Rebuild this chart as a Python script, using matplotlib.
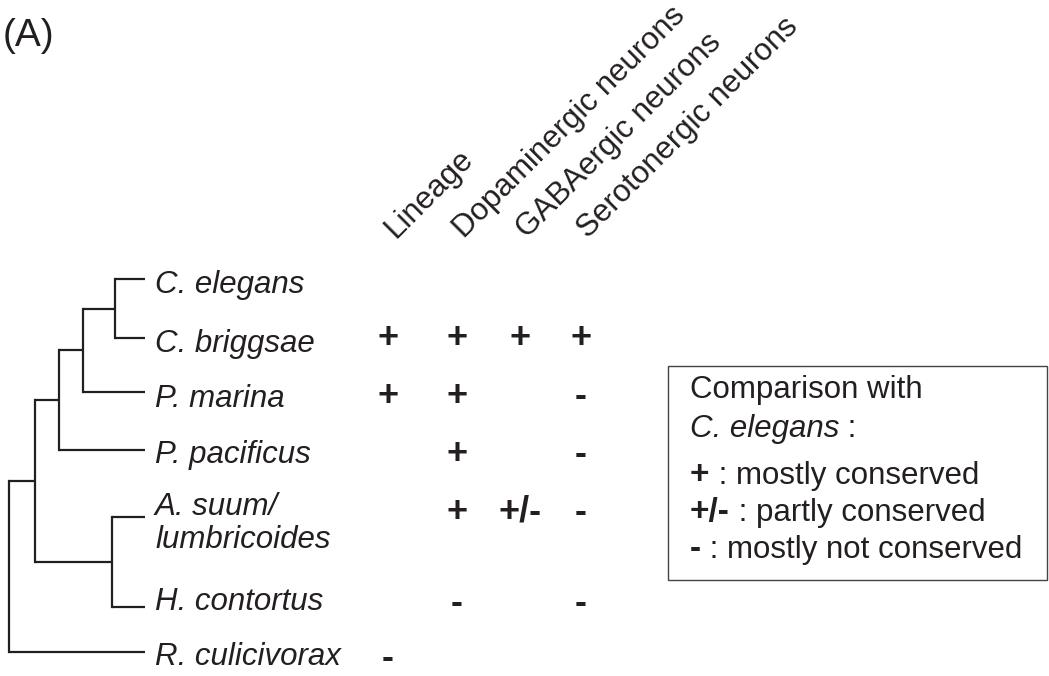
import matplotlib
matplotlib.use("Agg")
import matplotlib.pyplot as plt
from matplotlib.patches import Rectangle

# Data
species = ["C. elegans", "C. briggsae", "P. marina", "P. pacificus",
           "A. suum/\nlumbricoides", "H. contortus", "R. culicivorax"]
features = ["Lineage", "Dopaminergic neurons", "GABAergic neurons",
            "Serotonergic neurons"]
lineage = ["", "+", "+", "", "", "", "-"]
dopaminergic = ["", "+", "+", "+", "+", "-", ""]
gabaergic = ["", "+", "", "", "+/-", "", ""]
serotonergic = ["", "+", "-", "-", "-", "-", ""]
columns = [lineage, dopaminergic, gabaergic, serotonergic]

# tree as nested tuples of species indices
tree = (((((0, 1), 2), 3), (4, 5)), 6)

legend_items = [("+", "mostly conserved"),
                ("+/-", "partly conserved"),
                ("-", "mostly not conserved")]

# Layout (pixels, y grows downwards)
INK = "#231f20"
FS = 22.5
tip_y = [279, 338, 392, 450, 517, 607, 652]
label_base = [293, 352, 407, 463, 515, 610, 665]
sym_mid = [0, 337, 395, 453, 511, 602, 657]
tip_x = 145
node_x = [9, 35, 59, 83, 115, 112]   # in drawing order
col_x = [388, 457, 520, 581]

plt.rcParams["font.family"] = ["Liberation Sans", "DejaVu Sans"]

fig = plt.figure(figsize=(10.49, 6.76), dpi=100)
ax = fig.add_axes([0, 0, 1, 1])
ax.set_xlim(0, 1049)
ax.set_ylim(676, 0)
ax.axis("off")

lw = 1.6
order = iter(node_x)


def draw(node, x):
    ys = []
    for child in node:
        if isinstance(child, int):
            cy, cx = tip_y[child], tip_x
        else:
            cx = next(order)
            cy = draw(child, cx)
        ax.plot([x, cx], [cy, cy], color=INK, lw=lw, solid_capstyle="butt")
        ys.append(cy)
    ax.plot([x, x], [min(ys), max(ys)], color=INK, lw=lw,
            solid_capstyle="projecting")
    return (min(ys) + max(ys)) / 2


draw(tree, next(order))

# Species labels
for i, name in enumerate(species):
    for j, line in enumerate(name.split("\n")):
        ax.text(155, label_base[i] + 33 * j, line, fontsize=FS,
                style="italic", color=INK, ha="left", va="baseline")

# Table symbols
for cx, col in zip(col_x, columns):
    for i, val in enumerate(col):
        if val:
            ax.text(cx, sym_mid[i] + 11, val, fontsize=26, fontweight="bold",
                    color=INK, ha="center", va="baseline")

# Column headers
for cx, feat in zip(col_x, features):
    ax.text(cx + 7, 239, feat, fontsize=FS, color=INK, rotation=45,
            rotation_mode="anchor", ha="left", va="baseline")

# Panel label
ax.text(3, 46, "(A)", fontsize=28, color=INK, ha="left", va="baseline")

# Legend box
ax.add_patch(Rectangle((668, 366), 379, 214, fill=False, edgecolor="#444444",
                       lw=1.0))
ax.text(690, 398, "Comparison with", fontsize=FS, color=INK, va="baseline")
t = ax.text(690, 437, "C. elegans", fontsize=FS, style="italic", color=INK,
            va="baseline")
ax.annotate(" :", xy=(1, 0), xycoords=t, fontsize=FS, color=INK,
            va="bottom", ha="left")
for k, (sym, desc) in enumerate(legend_items):
    t = ax.text(690, 484 + k * 37, sym, fontsize=24, fontweight="bold",
                color=INK, va="baseline")
    ax.annotate(" : " + desc, xy=(1, 0), xycoords=t, fontsize=FS, color=INK,
                va="bottom", ha="left")

fig.savefig("out.png", dpi=100)
